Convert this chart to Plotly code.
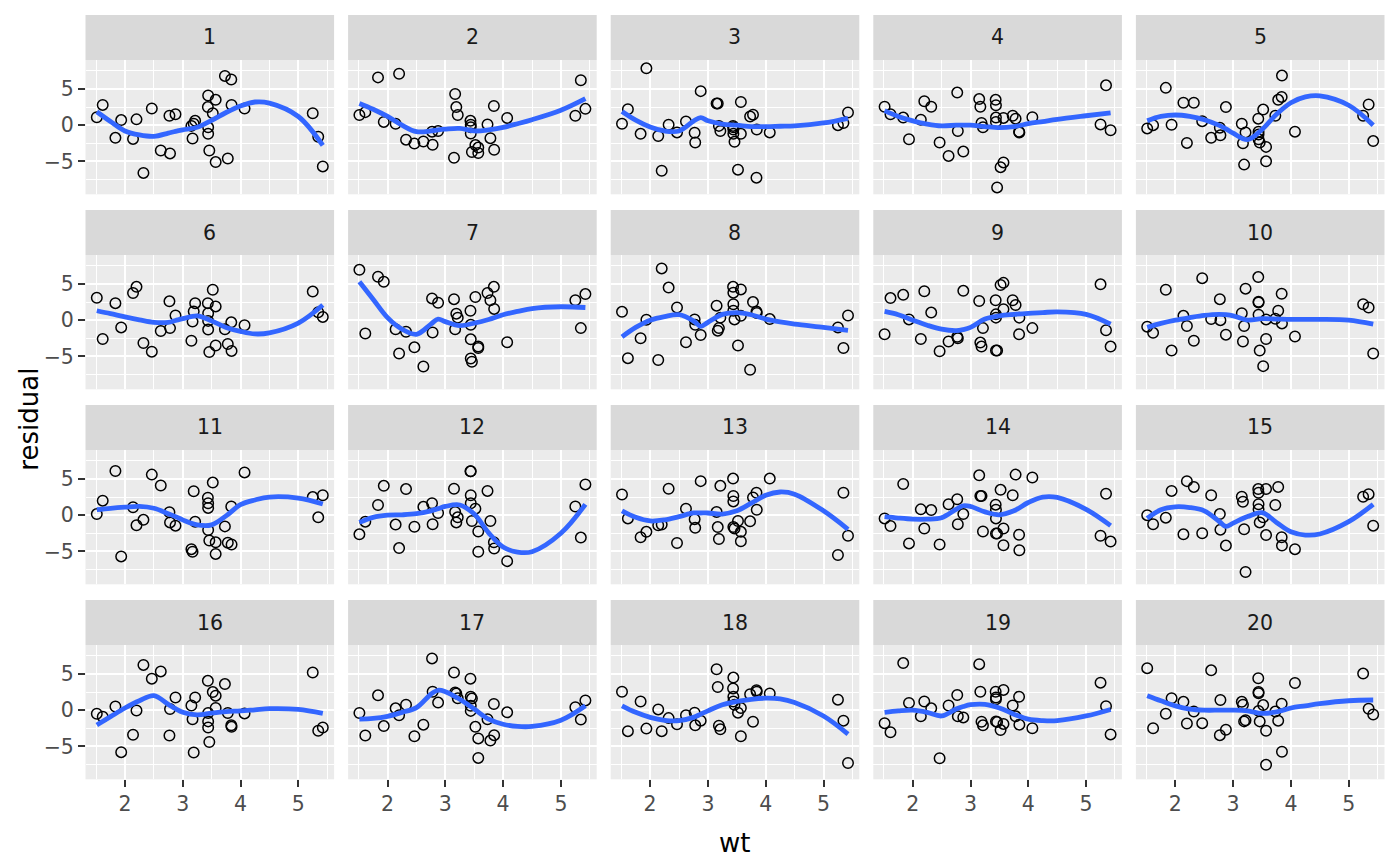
import plotly.graph_objects as go

# mtcars wt, sorted ascending (x for every panel)
wt = [1.513, 1.615, 1.835, 1.935, 2.140, 2.200, 2.320, 2.465, 2.620, 2.770, 2.780, 2.875,
      3.150, 3.170, 3.190, 3.215, 3.435, 3.440, 3.440, 3.440, 3.460, 3.520, 3.570, 3.570,
      3.730, 3.780, 3.840, 3.845, 4.070, 5.250, 5.345, 5.424]

# residuals per panel (same order as wt)
res_1 = [1.1, 2.8, -1.75, 0.7, -1.9, 0.8, -6.6, 2.3, -3.5, 1.3, -3.9, 1.5, -0.1, -1.85, 0.2, 0.6,
         2.5, 4.1, -0.3, -1.2, -3.5, 1.65, 3.5, -5.1, 6.8, -4.6, 6.3, 2.8, 2.3, 1.65, -1.6, -5.7]
res_2 = [1.4, 1.8, 6.6, 0.45, 0.2, 7.1, -2.0, -2.55, -2.25, -0.9, -2.7, -0.8, -4.5, 4.3, 2.5, 1.4,
         0.6, 0.05, -0.3, -1.15, -3.7, -2.75, -3.1, -3.85, 0.1, -1.8, 2.65, -3.4, 1.0, 1.3, 6.2, 2.25]
res_3 = [0.2, 2.2, -1.2, 7.85, -1.5, -6.3, 0.05, -1.0, 0.5, -1.05, -2.4, 4.7, 3.0, 3.0, -0.1, -0.8,
         -0.1, -0.3, -0.6, -1.2, -2.3, -6.15, 3.2, -1.2, 1.2, 1.45, -7.25, -0.6, -1.0, 0.0, 0.3, 1.75]
res_4 = [2.55, 1.5, 1.05, -1.95, 0.75, 3.3, 2.55, -2.4, -4.25, 4.5, -0.8, -3.65, 3.6, 2.55, 0.3, -0.3,
         3.5, 2.75, 1.05, 0.45, -8.6, -5.8, 1.0, -5.15, 1.3, 0.9, -0.9, -1.0, 1.1, 0.1, 5.5, -0.7]
res_5 = [-0.45, 0.0, 5.15, 0.05, 3.1, -2.45, 3.1, 0.55, -1.75, -0.35, -1.4, 2.5, 0.2, -2.5, -5.45, -1.0,
         0.9, -0.9, -1.3, -1.95, -2.4, 2.15, -3.0, -5.0, 1.3, 3.5, 3.9, 6.85, -0.9, 1.3, 2.85, -2.2]
res_6 = [3.1, -2.6, 2.35, -1.0, 3.75, 4.6, -3.15, -4.35, -1.5, 2.6, -1.1, 0.65, -2.85, -0.2, 1.2, 2.35,
         2.35, 0.95, -0.1, -1.3, -4.4, 4.2, 1.9, -3.5, -1.25, -3.3, -0.3, -4.25, -0.7, 3.95, 1.1, 0.45]
res_7 = [6.95, -1.85, 6.0, 5.3, -1.25, -4.6, -1.6, -3.75, -6.4, 3.0, -1.7, 2.4, 2.9, -1.25, 0.9, 0.35,
         1.3, -0.65, -2.65, -5.3, -5.75, 3.2, -3.85, -3.65, 3.75, 2.75, 4.6, 1.55, -3.05, 2.75, -1.1, 3.6]
res_8 = [1.15, -5.25, -2.5, 0.05, -5.5, 7.15, 4.5, 1.75, -3.05, 0.1, -0.65, -2.05, 2.0, -1.45, -1.1, 0.35,
         4.6, 3.8, 2.2, 1.3, 0.1, -3.5, 4.25, 0.6, -6.85, 2.5, 1.2, 1.0, 0.15, -1.0, -3.85, 0.65]
res_9 = [-1.95, 3.05, 3.5, 0.1, -2.6, 4.0, 1.05, -4.3, -2.95, -2.3, -2.5, 4.05, 2.65, -3.1, -3.65, -1.1,
         2.75, 0.8, 0.35, -4.2, -4.2, 4.85, 5.15, 1.5, 2.75, 2.1, -1.95, 0.35, -1.1, 4.95, -1.4, -3.65]
res_10 = [-0.9, -1.75, 4.2, -4.2, 0.6, -0.8, -2.85, 5.8, 0.15, 2.9, 0.0, -2.0, 0.95, -2.95, -0.8, 4.35,
          5.95, 2.55, 2.45, 0.75, -4.2, -6.35, 0.1, -2.6, 0.2, 1.3, 3.65, -0.45, -2.25, 2.2, 1.75, -4.6]
res_11 = [0.15, 2.0, 6.1, -5.7, 1.1, -1.4, -0.65, 5.6, 4.1, 0.4, -1.0, -1.45, -4.7, -5.05, 3.3, -0.9,
          2.4, 1.65, 1.0, -2.05, -3.5, 4.5, -3.75, -5.35, -1.55, -3.8, 1.2, -4.05, 5.9, 2.5, -0.3, 2.75]
res_12 = [-2.65, -0.9, 1.4, 4.05, -1.3, -4.55, 3.6, -1.6, 1.15, 1.65, -1.25, 0.3, 3.65, 0.45, -1.0, -0.3,
          6.05, 6.05, 2.75, 1.65, -0.8, 0.9, -2.25, -5.05, 3.35, -0.8, -3.75, -4.6, -6.35, 1.2, -3.1, 4.25]
res_13 = [2.85, -0.45, -3.05, -2.3, -1.4, -1.3, 3.65, -3.85, 0.9, -0.55, -1.75, 4.7, 0.45, -1.65, -3.3, 4.05,
          5.05, 2.65, 1.9, -1.65, -1.85, -0.8, -2.3, -3.6, -0.85, 2.45, 3.1, 0.75, 5.05, -5.5, 3.1, -2.85]
res_14 = [-0.45, -1.5, 4.3, -3.9, 0.8, -1.85, 0.7, -4.05, 1.5, 2.2, -1.25, 0.15, 5.5, 2.65, 2.65, -2.25,
          1.45, 0.75, -0.45, -2.55, -2.55, 3.5, -1.85, -4.15, 2.75, 5.6, -2.7, -4.85, 5.2, -2.85, 2.95, -3.65]
res_15 = [0.0, -1.25, -0.35, 3.35, -2.65, 4.7, 3.9, -2.5, 2.75, 0.15, -2.0, -4.2, 2.55, 1.85, -1.95, -7.85,
          3.6, 3.1, 1.5, 0.8, -1.0, -0.3, 3.6, -2.75, 1.4, 3.9, -3.05, -4.2, -4.7, 2.55, 2.9, -1.45]
res_16 = [-0.5, -0.9, 0.5, -5.8, -3.4, -0.05, 6.25, 4.35, 5.35, -3.5, 0.15, 1.75, 0.65, -1.25, -5.85, 1.75,
          4.05, -0.4, -1.55, -2.4, -4.4, 2.5, 2.0, 0.3, 3.6, -0.4, -2.1, -2.3, -0.45, 5.2, -2.85, -2.4]
res_17 = [-0.4, -3.5, 2.05, -2.2, 0.25, -0.7, 0.75, -3.6, -2.0, 7.15, 2.55, 1.05, 5.2, 2.45, 2.3, 1.65,
          4.35, 0.6, -0.1, 1.85, 1.6, -2.3, -3.9, -6.6, -1.25, -4.2, 0.85, -3.45, -0.3, 0.4, -1.3, 1.35]
res_18 = [2.55, -2.9, 1.2, -2.55, 0.1, -2.9, -1.1, -1.95, -0.7, -0.35, -2.1, -1.45, 5.65, 3.2, -2.15, -2.65,
          3.0, 4.5, 1.85, 1.2, 0.75, -0.35, 0.3, -3.6, 2.2, -1.6, 2.75, 2.55, 2.3, 1.45, -1.45, -7.3]
res_19 = [-1.8, -3.05, 6.5, 1.0, -0.85, 1.2, 0.25, -6.65, 0.65, 2.1, -0.85, -1.0, 6.35, 2.55, -1.6, -2.1,
          2.55, 1.75, 1.5, -1.55, -1.65, -2.75, -1.9, 2.8, 0.65, -0.85, 1.85, -2.0, -2.5, 3.8, 0.55, -3.35]
res_20 = [5.8, -2.5, -0.5, 1.65, 1.15, -1.85, -0.2, -1.8, 5.5, -3.45, 1.4, -2.7, 1.15, 0.75, -1.55, -1.4,
          4.4, 2.35, 2.5, -0.1, -1.55, 0.7, -2.85, -7.55, -0.2, -1.45, 0.9, -5.75, 3.75, 5.05, 0.2, -0.6]

# smoother (loess) curve values at these wt positions
smooth_x = [1.513, 1.75, 2.0, 2.25, 2.5, 2.75, 2.875, 3.0, 3.25, 3.5, 3.75, 4.0, 4.25, 4.5, 5.0, 5.424]
smooth_1 = [1.85, 0.5, -0.8, -1.35, -1.55, -1.1, -0.85, -0.65, -0.3, 0.65, 1.75, 2.65, 3.2, 3.05, 1.2, -2.8]
smooth_2 = [3.0, 2.2, 1.2, 0.0, -0.9, -0.8, -0.65, -0.55, -0.45, -0.8, -0.65, -0.3, 0.2, 0.75, 2.05, 3.65]
smooth_3 = [1.9, 0.7, -0.25, -0.8, -0.8, 0.55, 1.05, 0.6, 0.15, 0.0, -0.2, -0.2, -0.15, -0.1, 0.3, 0.95]
smooth_4 = [2.0, 1.2, 0.6, 0.15, -0.1, 0.0, 0.0, 0.0, -0.2, -0.35, -0.2, 0.2, 0.5, 0.8, 1.3, 1.7]
smooth_5 = [0.6, 1.2, 1.4, 1.2, 0.75, 0.0, -0.5, -1.1, -2.0, -0.6, 1.5, 3.1, 3.9, 4.05, 2.75, 0.0]
smooth_6 = [1.3, 0.9, 0.45, 0.05, -0.3, -0.3, -0.05, 0.2, 0.6, -0.1, -1.0, -1.55, -1.9, -1.75, -0.4, 2.1]
smooth_7 = [5.3, 2.9, 0.35, -1.25, -1.95, -0.55, 0.15, -0.2, -0.75, -0.4, 0.1, 0.75, 1.2, 1.6, 1.85, 1.75]
smooth_8 = [-2.3, -1.0, 0.0, 0.5, 0.75, -0.1, -0.85, -0.3, 0.8, 1.05, 0.75, 0.15, -0.25, -0.55, -1.0, -1.4]
smooth_9 = [1.2, 0.75, 0.0, -0.7, -1.25, -1.45, -1.3, -1.0, 0.15, 0.6, 0.8, 0.95, 1.05, 1.15, 0.8, -0.55]
smooth_10 = [-1.0, -0.45, 0.0, 0.35, 0.65, 0.8, 0.75, 0.6, 0.0, 0.2, 0.15, 0.1, 0.1, 0.1, 0.0, -0.55]
smooth_11 = [0.75, 0.95, 1.1, 1.2, 0.95, 0.2, -0.2, -0.65, -1.35, -1.35, -0.1, 1.45, 2.1, 2.5, 2.35, 1.55]
smooth_12 = [-1.0, -0.3, 0.0, 0.05, 0.2, 0.6, 0.9, 1.2, 1.4, 0.15, -2.45, -4.4, -5.1, -5.05, -2.5, 1.5]
smooth_13 = [0.6, -0.3, -0.8, -0.65, -0.2, 0.3, 0.3, 0.3, 0.15, 0.6, 1.65, 2.75, 3.2, 2.9, 0.6, -1.95]
smooth_14 = [-0.2, -0.4, -0.55, -0.55, -0.35, 0.8, 1.3, 1.2, 0.45, 0.05, 0.6, 1.75, 2.5, 2.45, 0.8, -1.45]
smooth_15 = [-0.45, 0.75, 1.15, 1.05, 0.6, -0.8, -1.55, -1.1, -0.2, 0.35, -1.0, -2.3, -2.75, -2.6, -0.9, 1.5]
smooth_16 = [-2.05, -0.9, 0.3, 1.3, 2.0, 0.8, 0.2, -0.3, -0.65, -0.4, -0.2, -0.1, 0.05, 0.2, 0.1, -0.45]
smooth_17 = [-1.25, -1.15, -0.85, -0.3, 0.35, 2.2, 2.75, 2.55, 1.5, 0.15, -1.25, -1.95, -2.25, -2.25, -1.4, 0.6]
smooth_18 = [0.6, -0.3, -1.0, -1.4, -1.45, -1.0, -0.55, -0.1, 0.75, 1.2, 1.5, 1.65, 1.55, 1.05, -0.8, -3.3]
smooth_19 = [-0.3, -0.1, 0.0, -0.3, -0.8, 0.15, 0.5, 0.75, 0.8, 0.3, -0.55, -1.25, -1.45, -1.45, -0.8, 0.1]
smooth_20 = [2.0, 1.3, 0.6, 0.15, 0.0, 0.0, 0.0, 0.0, -0.1, -0.45, -0.25, 0.3, 0.6, 0.9, 1.3, 1.4]

panel_labels = [str(i) for i in range(1, 21)]
residuals = [res_1, res_2, res_3, res_4, res_5, res_6, res_7, res_8, res_9, res_10,
             res_11, res_12, res_13, res_14, res_15, res_16, res_17, res_18, res_19, res_20]
smooths = [smooth_1, smooth_2, smooth_3, smooth_4, smooth_5, smooth_6, smooth_7, smooth_8, smooth_9, smooth_10,
           smooth_11, smooth_12, smooth_13, smooth_14, smooth_15, smooth_16, smooth_17, smooth_18, smooth_19, smooth_20]

x_ticks = [2, 3, 4, 5]
y_ticks = [-5, 0, 5]

# page geometry in pixels (the page body adds an 8px margin, so shift everything back)
W, H = 1400, 865
OFF = 8.0
LEFT = 85.5 - OFF
GAP = 14.0
PW = 248.6
STRIP_TOP, STRIP_H, PANEL_H, ROW_PITCH = 15.0 - OFF, 45.0, 134.3, 195.0
FONT = "DejaVu Sans"
TICK_FONT = dict(family=FONT, size=20.5, color="#4D4D4D")

fig = go.Figure()
shapes, annotations = [], []

for i in range(20):
    r, c = divmod(i, 5)
    n = "" if i == 0 else str(i + 1)
    x0 = LEFT + c * (PW + GAP)
    x1 = x0 + PW
    s0 = STRIP_TOP + r * ROW_PITCH
    p0 = s0 + STRIP_H
    p1 = p0 + PANEL_H

    fig.add_trace(go.Scatter(x=wt, y=residuals[i], mode="markers", xaxis="x" + n, yaxis="y" + n,
                             marker=dict(symbol="circle-open", size=10.5, color="black",
                                         line=dict(width=1.5, color="black")),
                             showlegend=False, hoverinfo="x+y"))
    fig.add_trace(go.Scatter(x=smooth_x, y=smooths[i], mode="lines", xaxis="x" + n, yaxis="y" + n,
                             line=dict(color="#3366FF", width=4.8, shape="spline", smoothing=1.0),
                             showlegend=False, hoverinfo="skip"))

    bottom = r == 3
    left = c == 0
    fig.layout["xaxis" + n] = dict(
        domain=[x0 / W, x1 / W], anchor="y" + n, range=[1.3174, 5.6196],
        tickvals=x_ticks, showticklabels=bottom, ticks="outside" if bottom else "",
        ticklen=6.5, tickwidth=2.2, tickcolor="#333333", tickfont=TICK_FONT,
        showgrid=True, gridcolor="white", gridwidth=2.4, zeroline=False, showline=False,
        minor=dict(tick0=1.5, dtick=1, showgrid=True, gridcolor="white", gridwidth=1.2),
        fixedrange=True)
    fig.layout["yaxis" + n] = dict(
        domain=[1 - p1 / H, 1 - p0 / H], anchor="x" + n, range=[-9.55, 9.0],
        tickvals=y_ticks, showticklabels=left, ticks="outside" if left else "",
        ticklen=6.5, tickwidth=2.2, tickcolor="#333333", tickfont=TICK_FONT,
        showgrid=True, gridcolor="white", gridwidth=2.4, zeroline=False, showline=False,
        minor=dict(tick0=2.5, dtick=5, showgrid=True, gridcolor="white", gridwidth=1.2),
        fixedrange=True)

    shapes.append(dict(type="rect", xref="paper", yref="paper", layer="below",
                       x0=x0 / W, x1=x1 / W, y0=1 - p0 / H, y1=1 - s0 / H,
                       fillcolor="#D9D9D9", line=dict(width=0)))
    annotations.append(dict(text=panel_labels[i], xref="paper", yref="paper", showarrow=False,
                            x=(x0 + x1) / 2 / W, y=1 - (s0 + STRIP_H / 2) / H,
                            xanchor="center", yanchor="middle",
                            font=dict(family=FONT, size=20.5, color="#1A1A1A")))

right = LEFT + 5 * PW + 4 * GAP
panels_top = STRIP_TOP + STRIP_H
panels_bottom = STRIP_TOP + 3 * ROW_PITCH + STRIP_H + PANEL_H
annotations.append(dict(text="wt", xref="paper", yref="paper", showarrow=False,
                        x=(LEFT + right) / 2 / W, y=1 - (843 - OFF) / H, xanchor="center", yanchor="middle",
                        font=dict(family=FONT, size=26, color="black")))
annotations.append(dict(text="residual", xref="paper", yref="paper", showarrow=False, textangle=-90,
                        x=(29 - OFF) / W, y=1 - (panels_top + panels_bottom) / 2 / H,
                        xanchor="center", yanchor="middle",
                        font=dict(family=FONT, size=26, color="black")))

fig.update_layout(width=W, height=H, margin=dict(l=0, r=0, t=0, b=0),
                  paper_bgcolor="white", plot_bgcolor="#EBEBEB",
                  shapes=shapes, annotations=annotations,
                  font=dict(family=FONT), hovermode="closest")

fig.write_html("out.html")
